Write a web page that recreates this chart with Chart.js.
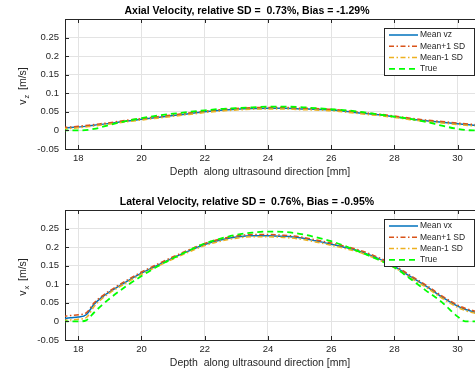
<!DOCTYPE html>
<html>
<head>
<meta charset="utf-8">
<script src="https://cdn.jsdelivr.net/npm/chart.js@4/dist/chart.umd.min.js"></script>
<style>
  html, body { margin: 0; padding: 0; background: #fff; overflow: hidden; }
  .panel { position: absolute; left: 0; width: 475px; height: 186px; }
  #top { top: 0; }
  #bottom { top: 186px; }
</style>
</head>
<body>
<div class="panel" id="top"><canvas id="axial-chart" width="475" height="186"></canvas></div>
<div class="panel" id="bottom"><canvas id="lateral-chart" width="475" height="186"></canvas></div>
<script>
"use strict";

// Axial velocity (top panel)
var depthZ   = [17.5, 18, 18.5, 19, 19.5, 20, 20.5, 21, 21.5, 22, 22.5, 23, 23.5, 24, 24.5, 25, 25.5, 26, 26.5, 27, 27.5, 28, 28.5, 29, 29.5, 30, 30.5, 31];
var meanVz   = [0.006, 0.009, 0.014, 0.019, 0.025, 0.030, 0.035, 0.040, 0.045, 0.050, 0.054, 0.057, 0.059, 0.060, 0.060, 0.058, 0.057, 0.055, 0.051, 0.046, 0.042, 0.037, 0.031, 0.026, 0.022, 0.018, 0.014, 0.011];
var plusVz   = [0.008, 0.011, 0.016, 0.021, 0.027, 0.032, 0.037, 0.042, 0.047, 0.052, 0.056, 0.059, 0.061, 0.062, 0.062, 0.060, 0.059, 0.057, 0.053, 0.048, 0.044, 0.039, 0.033, 0.028, 0.024, 0.020, 0.016, 0.013];
var minusVz  = [0.004, 0.007, 0.012, 0.017, 0.023, 0.028, 0.033, 0.038, 0.043, 0.048, 0.052, 0.055, 0.057, 0.058, 0.058, 0.056, 0.055, 0.053, 0.049, 0.044, 0.040, 0.035, 0.029, 0.024, 0.020, 0.016, 0.012, 0.009];
var trueVz   = [0, 0, 0.004, 0.015, 0.025, 0.033, 0.040, 0.045, 0.050, 0.054, 0.058, 0.060, 0.062, 0.064, 0.064, 0.063, 0.060, 0.057, 0.054, 0.049, 0.043, 0.037, 0.031, 0.023, 0.013, 0.004, 0, 0];

// Lateral velocity (bottom panel)
var depthX   = [17.5, 17.75, 18, 18.25, 18.5, 18.75, 19, 19.5, 20, 20.5, 21, 21.5, 22, 22.5, 23, 23.5, 24, 24.5, 25, 25.5, 26, 26.5, 27, 27.5, 28, 28.5, 29, 29.5, 30, 30.25, 30.5, 30.75];
var meanVx   = [0.007, 0.010, 0.012, 0.018, 0.046, 0.065, 0.080, 0.106, 0.130, 0.151, 0.171, 0.190, 0.207, 0.219, 0.227, 0.231, 0.231, 0.229, 0.225, 0.217, 0.208, 0.198, 0.186, 0.169, 0.148, 0.121, 0.095, 0.066, 0.041, 0.032, 0.026, 0.021];
var plusVx   = [0.013, 0.016, 0.018, 0.023, 0.050, 0.068, 0.083, 0.109, 0.133, 0.154, 0.174, 0.193, 0.210, 0.222, 0.230, 0.234, 0.234, 0.232, 0.228, 0.220, 0.211, 0.201, 0.189, 0.172, 0.151, 0.124, 0.098, 0.069, 0.044, 0.035, 0.029, 0.024];
var minusVx  = [0.003, 0.004, 0.006, 0.010, 0.040, 0.061, 0.077, 0.103, 0.127, 0.148, 0.168, 0.187, 0.204, 0.216, 0.224, 0.228, 0.228, 0.226, 0.222, 0.214, 0.205, 0.195, 0.183, 0.166, 0.145, 0.118, 0.092, 0.063, 0.038, 0.029, 0.023, 0.018];
var trueVx   = [0, 0, 0, 0.003, 0.024, 0.044, 0.062, 0.094, 0.122, 0.148, 0.170, 0.191, 0.210, 0.223, 0.233, 0.239, 0.242, 0.241, 0.236, 0.227, 0.216, 0.201, 0.184, 0.166, 0.145, 0.115, 0.083, 0.052, 0.013, 0, 0, 0];

var yTicksHidden = [0.3];

var INK = "#262626";
var FONT = "'Liberation Sans', Arial, Helvetica, sans-serif";

function pts(xs, ys) {
    return xs.map(function (x, i) { return { x: x, y: ys[i] }; });
}

function makeDatasets(xs, mean, plus, minus, truth, meanLabel) {
    return [
        { label: meanLabel, data: pts(xs, mean), borderColor: "#0072BD", borderWidth: 1.5, order: 4 },
        { label: "Mean+1 SD", data: pts(xs, plus), borderColor: "#D95319", borderWidth: 1.5, borderDash: [5, 2.5, 1.5, 2.5], order: 3 },
        { label: "Mean-1 SD", data: pts(xs, minus), borderColor: "#EDB120", borderWidth: 1.5, borderDash: [5, 2.5, 1.5, 2.5], order: 2 },
        { label: "True", data: pts(xs, truth), borderColor: "#00FF00", borderWidth: 1.8, borderDash: [6, 4], order: 1 }
    ];
}

// Box, inward ticks, title, axis labels and legend in MATLAB style
var matlabFrame = {
    id: "matlabFrame",
    afterDraw: function (chart, args, opts) {
        var ctx = chart.ctx, a = chart.chartArea;
        var xs = chart.scales.x, ys = chart.scales.y;
        ctx.save();

        // top border + inward ticks
        ctx.strokeStyle = INK;
        ctx.lineWidth = 1;
        ctx.setLineDash([]);
        ctx.beginPath();
        ctx.moveTo(a.left, a.top + 0.5);
        ctx.lineTo(a.right, a.top + 0.5);
        xs.ticks.forEach(function (t) {
            var px = Math.round(xs.getPixelForValue(t.value)) + 0.5;
            ctx.moveTo(px, a.bottom); ctx.lineTo(px, a.bottom - 4);
            ctx.moveTo(px, a.top); ctx.lineTo(px, a.top + 4);
        });
        ys.ticks.forEach(function (t) {
            var py = Math.round(ys.getPixelForValue(t.value)) + 0.5;
            ctx.moveTo(a.left, py); ctx.lineTo(a.left + 4, py);
        });
        ctx.stroke();

        // title
        ctx.fillStyle = "#000";
        ctx.font = "bold 10.5px " + FONT;
        ctx.textAlign = "center";
        ctx.textBaseline = "middle";
        ctx.fillText(opts.title, 247, a.top - 8);

        // x label
        ctx.fillStyle = INK;
        ctx.font = "10.5px " + FONT;
        ctx.fillText("Depth  along ultrasound direction [mm]", 260, a.bottom + 23);

        // y label with subscript
        ctx.save();
        ctx.translate(26, (a.top + a.bottom) / 2 + 2);
        ctx.rotate(-Math.PI / 2);
        ctx.textAlign = "left";
        ctx.textBaseline = "alphabetic";
        var big = "10.5px " + FONT, small = "7.5px " + FONT;
        ctx.font = big; var w1 = ctx.measureText("v").width;
        ctx.font = small; var w2 = ctx.measureText(opts.sub).width;
        ctx.font = big; var w3 = ctx.measureText("  [m/s]").width;
        var x0 = -(w1 + w2 + w3) / 2;
        ctx.fillText("v", x0, 0);
        ctx.font = small; ctx.fillText(opts.sub, x0 + w1 + 1, 3);
        ctx.font = big; ctx.fillText("  [m/s]", x0 + w1 + w2, 0);
        ctx.restore();

        // legend
        var bx = a.left + 319, by = a.top + 9, bw = 90, bh = 47;
        ctx.fillStyle = "#fff";
        ctx.fillRect(bx, by, bw, bh);
        ctx.strokeStyle = INK;
        ctx.lineWidth = 1;
        ctx.strokeRect(bx + 0.5, by + 0.5, bw, bh);
        ctx.font = "8.5px " + FONT;
        ctx.textAlign = "left";
        ctx.textBaseline = "middle";
        chart.data.datasets.forEach(function (ds, i) {
            var ry = by + 7 + i * 11.3;
            ctx.strokeStyle = ds.borderColor;
            ctx.lineWidth = ds.borderWidth;
            ctx.setLineDash(ds.borderDash || []);
            ctx.beginPath();
            ctx.moveTo(bx + 5, ry);
            ctx.lineTo(bx + 34, ry);
            ctx.stroke();
            ctx.fillStyle = INK;
            ctx.fillText(ds.label, bx + 36, ry);
        });
        ctx.restore();
    }
};

function makeChart(id, datasets, title, sub, padTop, xHeight) {
    var ctx = document.getElementById(id).getContext("2d");
    return new Chart(ctx, {
        type: "line",
        data: { datasets: datasets },
        plugins: [matlabFrame],
        options: {
            responsive: false,
            animation: false,
            layout: { padding: { top: padTop, left: 0, right: 0, bottom: 0 } },
            elements: {
                point: { radius: 0 },
                line: { cubicInterpolationMode: "monotone", fill: false }
            },
            datasets: { line: { clip: 0 } },
            plugins: {
                legend: { display: false },
                title: { display: false },
                tooltip: { enabled: false },
                matlabFrame: { title: title, sub: sub }
            },
            scales: {
                x: {
                    type: "linear",
                    min: 17.58,
                    max: 30.55,
                    afterFit: function (s) { s.height = xHeight; },
                    ticks: {
                        stepSize: 2,
                        includeBounds: false,
                        color: INK,
                        padding: 4,
                        maxRotation: 0,
                        font: { family: FONT, size: 9.5 }
                    },
                    grid: { color: "#e3e3e3", drawTicks: false },
                    border: { color: INK, width: 1 }
                },
                y: {
                    min: -0.05,
                    max: 0.3,
                    afterFit: function (s) { s.width = 65; },
                    ticks: {
                        stepSize: 0.05,
                        color: INK,
                        padding: 6,
                        font: { family: FONT, size: 9.5 },
                        callback: function (v) {
                            var r = +v.toFixed(2);
                            return yTicksHidden.indexOf(r) >= 0 ? "" : String(r);
                        }
                    },
                    grid: { color: "#e3e3e3", drawTicks: false },
                    border: { color: INK, width: 1 }
                }
            }
        }
    });
}

makeChart("axial-chart",
    makeDatasets(depthZ, meanVz, plusVz, minusVz, trueVz, "Mean vz"),
    "Axial Velocity, relative SD =  0.73%, Bias = -1.29%", "z", 19, 37);

makeChart("lateral-chart",
    makeDatasets(depthX, meanVx, plusVx, minusVx, trueVx, "Mean vx"),
    "Lateral Velocity, relative SD =  0.76%, Bias = -0.95%", "x", 24, 32);
</script>
</body>
</html>
